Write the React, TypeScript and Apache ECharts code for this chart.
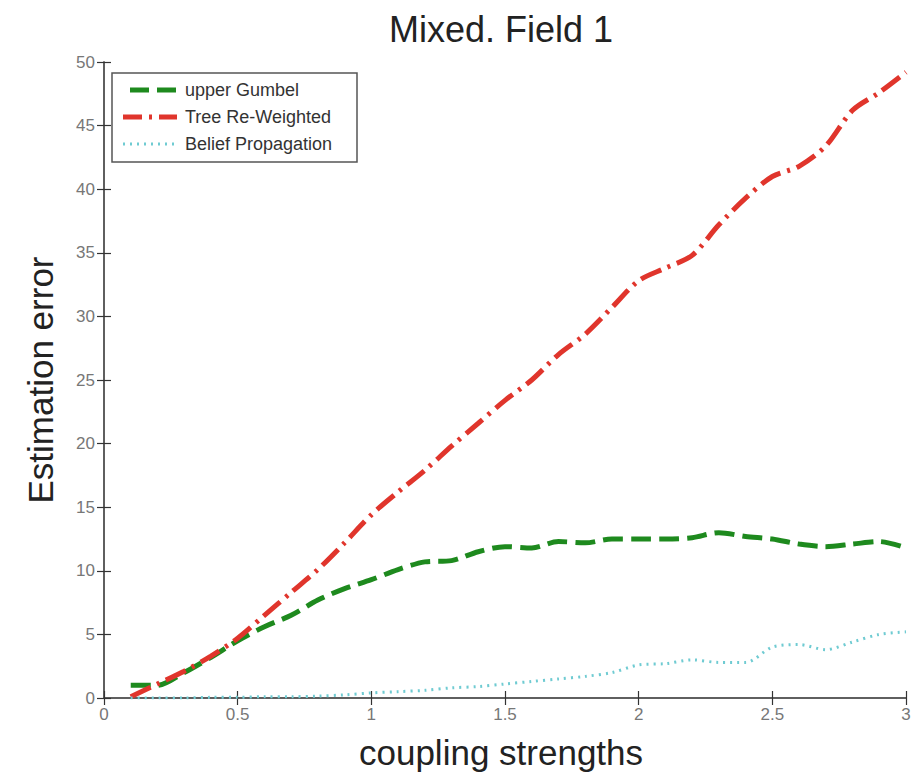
import React, { useEffect, useRef } from "react";
import * as echarts from "echarts";

const xValues = [0.1, 0.2, 0.3, 0.4, 0.5, 0.6, 0.7, 0.8, 0.9, 1.0, 1.1, 1.2, 1.3, 1.4, 1.5, 1.6, 1.7, 1.8, 1.9, 2.0, 2.1, 2.2, 2.3, 2.4, 2.5, 2.6, 2.7, 2.8, 2.9, 3.0];

const upperGumbel = [1.0, 1.0, 2.0, 3.2, 4.5, 5.6, 6.5, 7.7, 8.6, 9.3, 10.1, 10.7, 10.8, 11.5, 11.9, 11.8, 12.3, 12.2, 12.5, 12.5, 12.5, 12.6, 13.0, 12.7, 12.5, 12.1, 11.9, 12.1, 12.3, 11.8];

const treeReweighted = [0.1, 1.1, 2.1, 3.3, 4.7, 6.5, 8.3, 10.1, 12.2, 14.4, 16.2, 17.9, 19.8, 21.6, 23.4, 25.0, 27.0, 28.6, 30.7, 32.8, 33.8, 34.8, 37.2, 39.3, 41.0, 41.8, 43.4, 46.2, 47.6, 49.2];

const beliefPropagation = [0.0, 0.0, 0.0, 0.05, 0.05, 0.1, 0.1, 0.15, 0.25, 0.4, 0.5, 0.6, 0.8, 0.9, 1.1, 1.3, 1.5, 1.7, 2.0, 2.6, 2.7, 3.0, 2.8, 2.8, 4.0, 4.2, 3.8, 4.4, 5.0, 5.2];

const seriesNames = ["upper Gumbel", "Tree Re-Weighted", "Belief Propagation"];

const titleText = "Mixed. Field 1";
const xLabelText = "coupling strengths";
const yLabelText = "Estimation error";

const FONT = "'Liberation Sans', Arial, Helvetica, sans-serif";

const COLORS = ["#1e8a1e", "#e0352c", "#6fcbd2"];
const DASHES = [[20, 8], [22, 7, 3, 7], [2, 5]];
const WIDTHS = [5, 5, 3];

export default function App() {
  const ref = useRef<HTMLDivElement>(null);

  useEffect(() => {
    document.body.style.margin = "0";
    if (!ref.current) return;
    const chart = echarts.init(ref.current, undefined, { renderer: "svg" });

    const toPairs = (vals: number[]) => xValues.map((x, i) => [x, vals[i]]);

    const axisLine = { show: true, lineStyle: { color: "#555", width: 1.5 } };
    const axisTick = { show: true, inside: true, length: 7, lineStyle: { color: "#333", width: 1.2 } };

    const legendStarts = [130, 123, 123];
    const legendGraphics: any[] = [];
    seriesNames.forEach((name, i) => {
      const y = 90 + 27 * i;
      legendGraphics.push({
        type: "line", z: 6,
        shape: { x1: legendStarts[i], y1: y, x2: 177, y2: y },
        style: {
          stroke: COLORS[i], lineWidth: WIDTHS[i],
          lineDash: i === 0 ? [19, 8] : i === 1 ? [19, 7, 3, 7] : [2, 5],
        },
      });
      legendGraphics.push({
        type: "text", z: 6, x: 185, y,
        style: { text: name, fontSize: 18, fontFamily: FONT, fill: "#333", align: "left", verticalAlign: "middle" },
      });
    });

    chart.setOption({
      animation: false,
      backgroundColor: "#fff",
      grid: { left: 104, right: 16, top: 62, bottom: 74, containLabel: false },
      xAxis: [
        {
          type: "value", min: 0, max: 3, interval: 0.5, position: "bottom",
          axisLine, axisTick, splitLine: { show: false },
          axisLabel: { fontSize: 17, color: "#777", margin: 8, fontFamily: FONT },
        },
        {
          type: "value", min: 0, max: 3, interval: 0.5, position: "top",
          axisLine, axisTick, splitLine: { show: false }, axisLabel: { show: false },
        },
      ],
      yAxis: [
        {
          type: "value", min: 0, max: 50, interval: 5, position: "left",
          axisLine, axisTick, splitLine: { show: false },
          axisLabel: { fontSize: 17, color: "#777", margin: 9, fontFamily: FONT },
        },
        {
          type: "value", min: 0, max: 50, interval: 5, position: "right",
          axisLine, axisTick, splitLine: { show: false }, axisLabel: { show: false },
        },
      ],
      graphic: [
        {
          type: "rect", z: 5,
          shape: { x: 112, y: 73, width: 245, height: 89 },
          style: { fill: "#fff", stroke: "#555", lineWidth: 1.5 },
        },
        ...legendGraphics,
        {
          type: "text", x: 501, y: 29,
          style: { text: titleText, fontSize: 36, fontFamily: FONT, fill: "#222", align: "center", verticalAlign: "middle" },
        },
        {
          type: "text", x: 501, y: 752,
          style: { text: xLabelText, fontSize: 35, fontFamily: FONT, fill: "#222", align: "center", verticalAlign: "middle" },
        },
        {
          type: "text", x: 40, y: 380, rotation: Math.PI / 2,
          style: { text: yLabelText, fontSize: 35, fontFamily: FONT, fill: "#222", align: "center", verticalAlign: "middle" },
        },
      ],
      series: [
        {
          name: seriesNames[0], type: "line", data: toPairs(upperGumbel), smooth: 0.3,
          symbol: "none", color: COLORS[0],
          lineStyle: { color: COLORS[0], width: WIDTHS[0], type: DASHES[0] },
        },
        {
          name: seriesNames[1], type: "line", data: toPairs(treeReweighted), smooth: 0.3,
          symbol: "none", color: COLORS[1],
          lineStyle: { color: COLORS[1], width: WIDTHS[1], type: DASHES[1] },
        },
        {
          name: seriesNames[2], type: "line", data: toPairs(beliefPropagation), smooth: 0.3,
          symbol: "none", color: COLORS[2],
          lineStyle: { color: COLORS[2], width: WIDTHS[2], type: DASHES[2] },
        },
      ],
    });

    return () => chart.dispose();
  }, []);

  return <div ref={ref} style={{ width: 922, height: 772 }} />;
}
